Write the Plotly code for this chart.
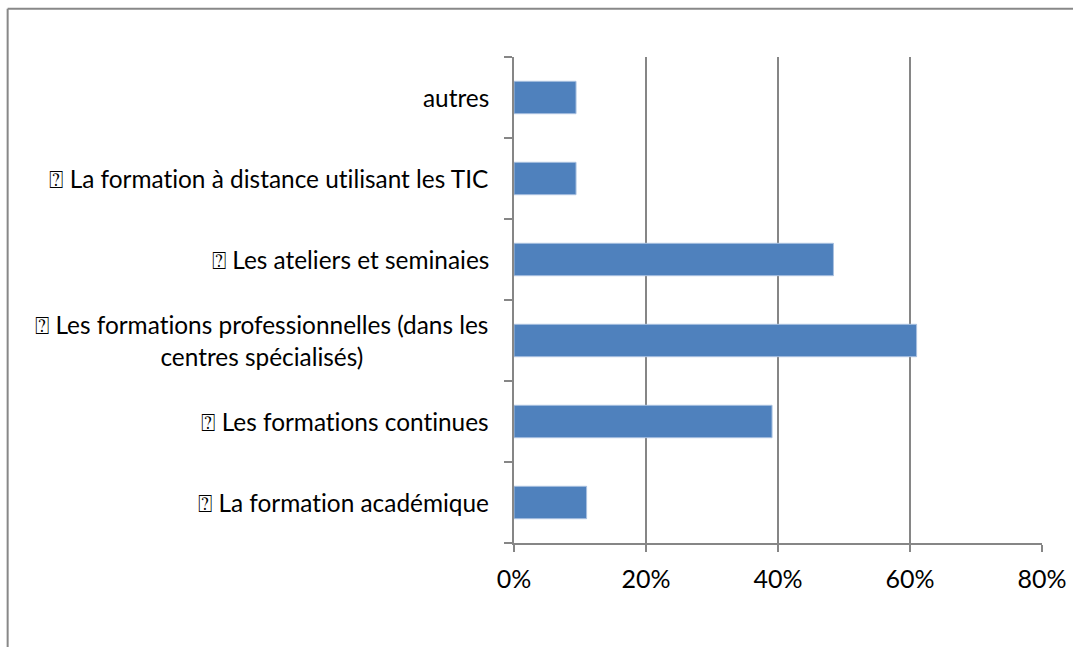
import plotly.graph_objects as go

categories = [
    "\u2370 La formation académique",
    "\u2370 Les formations continues",
    "\u2370 Les formations professionnelles (dans les<br>centres spécialisés)",
    "\u2370 Les ateliers et seminaies",
    "\u2370 La formation à distance utilisant les TIC",
    "autres",
]
values = [0.110, 0.391, 0.610, 0.484, 0.094, 0.094]
x_tickvals = [0, 0.2, 0.4, 0.6, 0.8]
x_ticktext = ["0%", "20%", "40%", "60%", "80%"]

FONT = "Lato, Carlito, Calibri, sans-serif"
GRID = "#868686"

fig = go.Figure()
fig.add_trace(go.Bar(
    x=values,
    y=list(range(len(categories))),
    orientation="h",
    marker=dict(color="#4F81BD", line=dict(color="#A9C1E0", width=1)),
    width=0.4,
    hoverinfo="skip",
))

for i, lab in enumerate(categories):
    fig.add_annotation(
        x=0, xref="paper", y=i, yref="y",
        text=lab, showarrow=False,
        xanchor="right", yanchor="middle", align="center",
        xshift=-23,
        font=dict(family=FONT, size=24.4, color="#000000"),
    )

# outer chart border (cut off at right and bottom in the reference)
fig.add_shape(type="line", xref="paper", yref="paper",
              x0=-0.959, x1=1.2, y0=1.0995, y1=1.0995,
              line=dict(color="#888888", width=2))
fig.add_shape(type="line", xref="paper", yref="paper",
              x0=-0.959, x1=-0.959, y0=1.0995, y1=-0.3,
              line=dict(color="#888888", width=2))

fig.update_layout(
    width=1073, height=647,
    margin=dict(l=514, r=31, t=57, b=104, autoexpand=False),
    paper_bgcolor="white", plot_bgcolor="white",
    showlegend=False,
    font=dict(family=FONT, size=25, color="#000000"),
    xaxis=dict(
        range=[0, 0.8], tickvals=x_tickvals, ticktext=x_ticktext,
        showgrid=True, gridcolor=GRID, gridwidth=1.8,
        showline=True, linecolor=GRID, linewidth=1.8,
        ticks="outside", ticklen=7, tickcolor=GRID, tickwidth=1.8,
        zeroline=False, fixedrange=True, automargin=False,
        ticklabelstandoff=6,
        tickfont=dict(family=FONT, size=25, color="#000000"),
    ),
    yaxis=dict(
        range=[-0.5, len(categories) - 0.5],
        tickvals=[i - 0.5 for i in range(len(categories) + 1)],
        showticklabels=False, automargin=False,
        showgrid=False, zeroline=False,
        showline=True, linecolor=GRID, linewidth=1.8,
        ticks="outside", ticklen=8, tickcolor=GRID, tickwidth=1.8,
        fixedrange=True,
    ),
)

post = """
var s = document.createElement('style');
s.textContent = 'html,body{margin:0;padding:0;overflow:hidden;} text{font-variant-ligatures:none !important;}';
document.head.appendChild(s);
"""

fig.write_html("out.html", post_script=post, config={"displayModeBar": False})
